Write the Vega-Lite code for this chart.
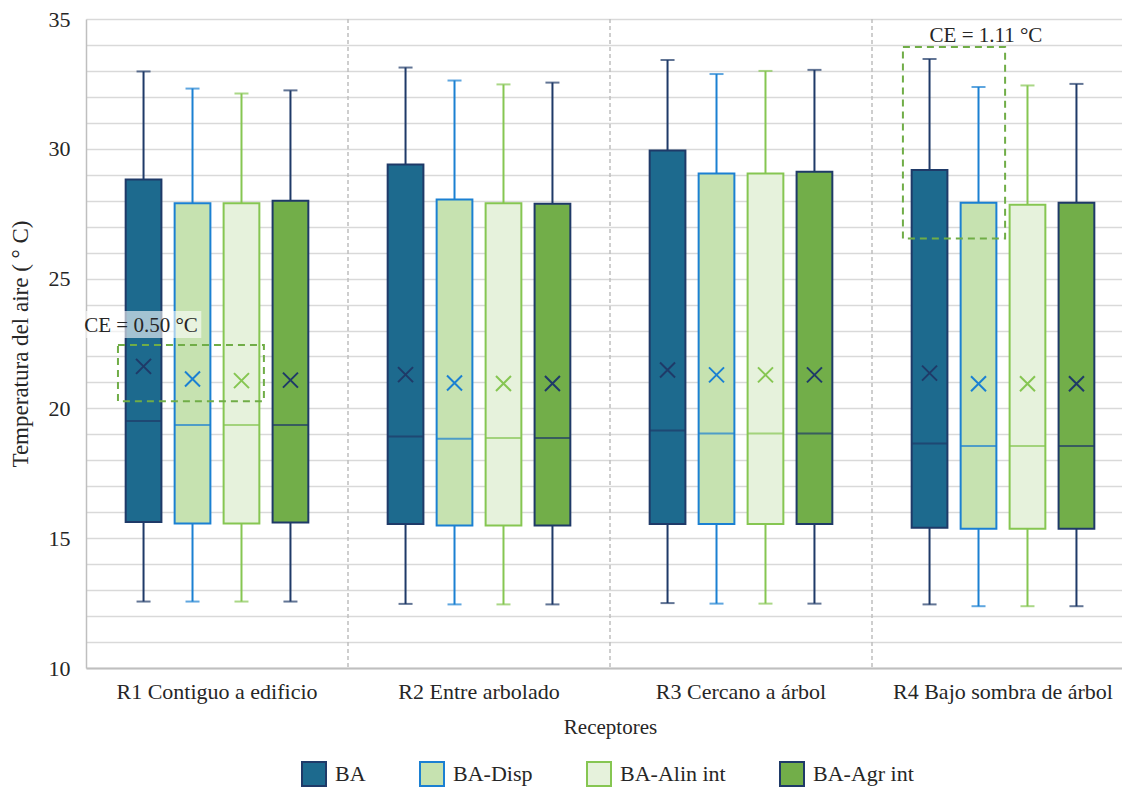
{
  "$schema": "https://vega.github.io/schema/vega-lite/v6.json",
  "width": 1036,
  "height": 649,
  "autosize": {"type": "none"},
  "padding": {"left": 86, "top": 19, "right": 0, "bottom": 120},
  "background": "white",
  "config": {
    "font": "Liberation Serif",
    "view": {"stroke": null},
    "axis": {"labelFont": "Liberation Serif", "titleFont": "Liberation Serif"},
    "axisY": {
      "grid": true, "gridColor": "#d9d9d9", "gridWidth": 1.5,
      "ticks": false, "domainColor": "#bfbfbf", "domainWidth": 1.5,
      "labelFont": "Liberation Serif", "titleFont": "Liberation Serif",
      "labelFontSize": 22, "labelPadding": 16, "labelColor": "#262626",
      "titleFontSize": 23, "titleFontWeight": "normal", "titleColor": "#262626", "titlePadding": 16
    },
    "axisX": {
      "grid": false, "ticks": false, "domainColor": "#bfbfbf", "domainWidth": 2,
      "labelFont": "Liberation Serif", "titleFont": "Liberation Serif",
      "labelFontSize": 22, "labelPadding": 13, "labelAngle": 0, "labelLimit": 400, "labelColor": "#262626",
      "titleFontSize": 21, "titleFontWeight": "normal", "titleColor": "#262626", "titlePadding": 14
    },
    "legend": {
      "labelFontSize": 22, "labelColor": "#262626", "labelFont": "Liberation Serif",
      "symbolType": "square", "symbolSize": 576, "symbolStrokeWidth": 2,
      "columnPadding": 50, "labelOffset": 8
    }
  },
  "datasets": {
    "boxes": [
      {"r": "R1 Contiguo a edificio", "s": "BA", "min": 12.56, "q1": 15.62, "med": 19.51, "q3": 28.82, "max": 32.98, "mean": 21.62},
      {"r": "R1 Contiguo a edificio", "s": "BA-Disp", "min": 12.56, "q1": 15.57, "med": 19.36, "q3": 27.9, "max": 32.32, "mean": 21.13},
      {"r": "R1 Contiguo a edificio", "s": "BA-Alin int", "min": 12.56, "q1": 15.57, "med": 19.36, "q3": 27.9, "max": 32.13, "mean": 21.07},
      {"r": "R1 Contiguo a edificio", "s": "BA-Agr int", "min": 12.56, "q1": 15.6, "med": 19.36, "q3": 28.0, "max": 32.25, "mean": 21.09},
      {"r": "R2 Entre arbolado", "s": "BA", "min": 12.47, "q1": 15.55, "med": 18.92, "q3": 29.4, "max": 33.13, "mean": 21.3},
      {"r": "R2 Entre arbolado", "s": "BA-Disp", "min": 12.45, "q1": 15.49, "med": 18.83, "q3": 28.05, "max": 32.63, "mean": 20.98},
      {"r": "R2 Entre arbolado", "s": "BA-Alin int", "min": 12.45, "q1": 15.49, "med": 18.86, "q3": 27.9, "max": 32.48, "mean": 20.96},
      {"r": "R2 Entre arbolado", "s": "BA-Agr int", "min": 12.45, "q1": 15.49, "med": 18.86, "q3": 27.88, "max": 32.55, "mean": 20.96},
      {"r": "R3 Cercano a árbol", "s": "BA", "min": 12.5, "q1": 15.55, "med": 19.15, "q3": 29.93, "max": 33.42, "mean": 21.48},
      {"r": "R3 Cercano a árbol", "s": "BA-Disp", "min": 12.48, "q1": 15.55, "med": 19.03, "q3": 29.05, "max": 32.88, "mean": 21.29},
      {"r": "R3 Cercano a árbol", "s": "BA-Alin int", "min": 12.48, "q1": 15.55, "med": 19.03, "q3": 29.05, "max": 33.0, "mean": 21.29},
      {"r": "R3 Cercano a árbol", "s": "BA-Agr int", "min": 12.48, "q1": 15.55, "med": 19.03, "q3": 29.12, "max": 33.04, "mean": 21.29},
      {"r": "R4 Bajo sombra de árbol", "s": "BA", "min": 12.45, "q1": 15.4, "med": 18.65, "q3": 29.18, "max": 33.46, "mean": 21.36},
      {"r": "R4 Bajo sombra de árbol", "s": "BA-Disp", "min": 12.38, "q1": 15.36, "med": 18.55, "q3": 27.92, "max": 32.38, "mean": 20.95},
      {"r": "R4 Bajo sombra de árbol", "s": "BA-Alin int", "min": 12.38, "q1": 15.36, "med": 18.55, "q3": 27.84, "max": 32.44, "mean": 20.95},
      {"r": "R4 Bajo sombra de árbol", "s": "BA-Agr int", "min": 12.38, "q1": 15.36, "med": 18.55, "q3": 27.92, "max": 32.5, "mean": 20.95}
    ],
    "dividers": [
      {"r": "R2 Entre arbolado"},
      {"r": "R3 Cercano a árbol"},
      {"r": "R4 Bajo sombra de árbol"}
    ],
    "ce_boxes": [
      {"x1": 0.122, "x2": 0.679, "y1": 20.28, "y2": 22.44},
      {"x1": 3.118, "x2": 3.508, "y1": 26.54, "y2": 33.92}
    ],
    "ce_bg": [
      {"x1": 0.0, "x2": 0.44, "y1": 22.71, "y2": 23.75}
    ],
    "ce_labels": [
      {"label": "CE = 0.50 °C", "x": 0.21, "y": 22.94},
      {"label": "CE = 1.11 °C", "x": 3.435, "y": 34.11}
    ]
  },
  "resolve": {"scale": {"x": "independent"}},
  "layer": [
    {
      "data": {"name": "boxes"},
      "mark": {"type": "rule", "strokeWidth": 2},
      "encoding": {
        "x": {"field": "r", "type": "nominal", "title": "Receptores",
              "scale": {"domain": ["R1 Contiguo a edificio", "R2 Entre arbolado", "R3 Cercano a árbol", "R4 Bajo sombra de árbol"], "range": [0, 1048], "paddingInner": 0, "paddingOuter": 0}},
        "xOffset": {"field": "s", "type": "nominal",
                    "scale": {"domain": ["BA", "BA-Disp", "BA-Alin int", "BA-Agr int"], "paddingInner": 0.27, "paddingOuter": 0.81}},
        "y": {"field": "min", "type": "quantitative", "title": "Temperatura del aire ( ° C)",
              "scale": {"domain": [10, 35], "nice": false, "zero": false},
              "axis": {"values": [10,11,12,13,14,15,16,17,18,19,20,21,22,23,24,25,26,27,28,29,30,31,32,33,34,35], "labelExpr": "datum.value % 5 === 0 ? datum.label : ''"}},
        "y2": {"field": "max"},
        "color": {"field": "s", "type": "nominal", "legend": null,
                  "scale": {"domain": ["BA-Agr int", "BA-Alin int", "BA-Disp", "BA"], "range": ["#1f3a68", "#86c652", "#1b80d2", "#1f3a68"]}}
      }
    },
    {
      "data": {"name": "dividers"},
      "mark": {"type": "rule", "color": "#bfbfbf", "strokeDash": [4, 3], "strokeWidth": 1.5},
      "encoding": {
        "x": {"field": "r", "type": "nominal", "bandPosition": 0, "axis": null,
              "scale": {"domain": ["R1 Contiguo a edificio", "R2 Entre arbolado", "R3 Cercano a árbol", "R4 Bajo sombra de árbol"], "range": [0, 1048], "paddingInner": 0, "paddingOuter": 0}}
      }
    },
    {
      "data": {"name": "boxes"},
      "mark": {"type": "bar", "strokeWidth": 2},
      "encoding": {
        "x": {"field": "r", "type": "nominal", "axis": null,
              "scale": {"domain": ["R1 Contiguo a edificio", "R2 Entre arbolado", "R3 Cercano a árbol", "R4 Bajo sombra de árbol"], "range": [0, 1048], "paddingInner": 0, "paddingOuter": 0}},
        "xOffset": {"field": "s", "type": "nominal"},
        "y": {"field": "q1", "type": "quantitative", "title": "Temperatura del aire ( ° C)",
              "axis": {"values": [10,11,12,13,14,15,16,17,18,19,20,21,22,23,24,25,26,27,28,29,30,31,32,33,34,35], "labelExpr": "datum.value % 5 === 0 ? datum.label : ''"}},
        "y2": {"field": "q3"},
        "fill": {"field": "s", "type": "nominal", "title": null,
                 "scale": {"domain": ["BA", "BA-Disp", "BA-Alin int", "BA-Agr int"], "range": ["#1d6a8e", "#c6e2b0", "#e6f2dc", "#72ae49"]},
                 "legend": {"orient": "none", "legendX": 215, "legendY": 742, "direction": "horizontal"}},
        "stroke": {"field": "s", "type": "nominal", "title": null,
                   "scale": {"domain": ["BA", "BA-Disp", "BA-Alin int", "BA-Agr int"], "range": ["#1f3a68", "#1b80d2", "#86c652", "#1f3a68"]},
                   "legend": {"orient": "none", "legendX": 215, "legendY": 742, "direction": "horizontal"}}
      }
    },
    {
      "data": {"name": "boxes"},
      "mark": {"type": "tick", "thickness": 2, "size": 36},
      "encoding": {
        "x": {"field": "r", "type": "nominal", "axis": null,
              "scale": {"domain": ["R1 Contiguo a edificio", "R2 Entre arbolado", "R3 Cercano a árbol", "R4 Bajo sombra de árbol"], "range": [0, 1048], "paddingInner": 0, "paddingOuter": 0}},
        "xOffset": {"field": "s", "type": "nominal"},
        "y": {"field": "med", "type": "quantitative", "title": "Temperatura del aire ( ° C)",
              "axis": {"values": [10,11,12,13,14,15,16,17,18,19,20,21,22,23,24,25,26,27,28,29,30,31,32,33,34,35], "labelExpr": "datum.value % 5 === 0 ? datum.label : ''"}},
        "color": {"field": "s", "type": "nominal", "legend": null}
      }
    },
    {
      "data": {"name": "boxes"},
      "mark": {"type": "tick", "thickness": 2, "size": 14},
      "encoding": {
        "x": {"field": "r", "type": "nominal", "axis": null,
              "scale": {"domain": ["R1 Contiguo a edificio", "R2 Entre arbolado", "R3 Cercano a árbol", "R4 Bajo sombra de árbol"], "range": [0, 1048], "paddingInner": 0, "paddingOuter": 0}},
        "xOffset": {"field": "s", "type": "nominal"},
        "y": {"field": "min", "type": "quantitative", "title": "Temperatura del aire ( ° C)",
              "axis": {"values": [10,11,12,13,14,15,16,17,18,19,20,21,22,23,24,25,26,27,28,29,30,31,32,33,34,35], "labelExpr": "datum.value % 5 === 0 ? datum.label : ''"}},
        "color": {"field": "s", "type": "nominal", "legend": null}
      }
    },
    {
      "data": {"name": "boxes"},
      "mark": {"type": "tick", "thickness": 2, "size": 14},
      "encoding": {
        "x": {"field": "r", "type": "nominal", "axis": null,
              "scale": {"domain": ["R1 Contiguo a edificio", "R2 Entre arbolado", "R3 Cercano a árbol", "R4 Bajo sombra de árbol"], "range": [0, 1048], "paddingInner": 0, "paddingOuter": 0}},
        "xOffset": {"field": "s", "type": "nominal"},
        "y": {"field": "max", "type": "quantitative", "title": "Temperatura del aire ( ° C)",
              "axis": {"values": [10,11,12,13,14,15,16,17,18,19,20,21,22,23,24,25,26,27,28,29,30,31,32,33,34,35], "labelExpr": "datum.value % 5 === 0 ? datum.label : ''"}},
        "color": {"field": "s", "type": "nominal", "legend": null}
      }
    },
    {
      "data": {"name": "boxes"},
      "mark": {"type": "point", "shape": "M-1,-1L1,1M1,-1L-1,1", "size": 225, "strokeWidth": 2, "filled": false, "opacity": 1},
      "encoding": {
        "x": {"field": "r", "type": "nominal", "axis": null,
              "scale": {"domain": ["R1 Contiguo a edificio", "R2 Entre arbolado", "R3 Cercano a árbol", "R4 Bajo sombra de árbol"], "range": [0, 1048], "paddingInner": 0, "paddingOuter": 0}},
        "xOffset": {"field": "s", "type": "nominal"},
        "y": {"field": "mean", "type": "quantitative", "title": "Temperatura del aire ( ° C)",
              "axis": {"values": [10,11,12,13,14,15,16,17,18,19,20,21,22,23,24,25,26,27,28,29,30,31,32,33,34,35], "labelExpr": "datum.value % 5 === 0 ? datum.label : ''"}},
        "color": {"field": "s", "type": "nominal", "legend": null}
      }
    },
    {
      "data": {"name": "ce_bg"},
      "mark": {"type": "rect", "color": "white", "opacity": 0.6},
      "encoding": {
        "x": {"field": "x1", "type": "quantitative", "axis": null, "scale": {"domain": [0, 4], "range": [0, 1048], "nice": false, "zero": false}},
        "x2": {"field": "x2"},
        "y": {"field": "y1", "type": "quantitative", "title": "Temperatura del aire ( ° C)",
              "axis": {"values": [10,11,12,13,14,15,16,17,18,19,20,21,22,23,24,25,26,27,28,29,30,31,32,33,34,35], "labelExpr": "datum.value % 5 === 0 ? datum.label : ''"}},
        "y2": {"field": "y2"}
      }
    },
    {
      "data": {"name": "ce_boxes"},
      "mark": {"type": "rect", "filled": false, "stroke": "#70ad47", "strokeDash": [7, 5], "strokeWidth": 2},
      "encoding": {
        "x": {"field": "x1", "type": "quantitative", "axis": null, "scale": {"domain": [0, 4], "range": [0, 1048], "nice": false, "zero": false}},
        "x2": {"field": "x2"},
        "y": {"field": "y1", "type": "quantitative", "title": "Temperatura del aire ( ° C)",
              "axis": {"values": [10,11,12,13,14,15,16,17,18,19,20,21,22,23,24,25,26,27,28,29,30,31,32,33,34,35], "labelExpr": "datum.value % 5 === 0 ? datum.label : ''"}},
        "y2": {"field": "y2"}
      }
    },
    {
      "data": {"name": "ce_labels"},
      "mark": {"type": "text", "fontSize": 21, "align": "center", "baseline": "alphabetic", "color": "#262626", "font": "Liberation Serif"},
      "encoding": {
        "x": {"field": "x", "type": "quantitative", "axis": null, "scale": {"domain": [0, 4], "range": [0, 1048], "nice": false, "zero": false}},
        "y": {"field": "y", "type": "quantitative", "title": "Temperatura del aire ( ° C)",
              "axis": {"values": [10,11,12,13,14,15,16,17,18,19,20,21,22,23,24,25,26,27,28,29,30,31,32,33,34,35], "labelExpr": "datum.value % 5 === 0 ? datum.label : ''"}},
        "text": {"field": "label"}
      }
    }
  ]
}
